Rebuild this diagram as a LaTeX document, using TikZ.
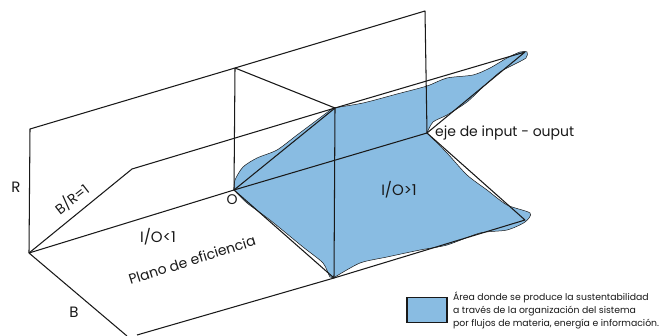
\documentclass[tikz,border=0pt]{standalone}
\usepackage{fontspec}
\setmainfont{Poppins}
\definecolor{areablue}{RGB}{137,188,226}
\definecolor{ink}{RGB}{25,25,25}
\tikzset{
  edge/.style={draw=ink,line width=1.05pt,line join=round},
  area/.style={fill=areablue,draw=ink,line width=0.5pt},
  lab/.style={inner sep=0pt,text=ink,font=\fontsize{14}{15}\selectfont},
  small/.style={inner sep=0pt,text=ink,anchor=west,font=\fontsize{9.3}{10}\selectfont}
}
\begin{document}
\begin{tikzpicture}[x=1pt,y=-1pt]
\useasboundingbox (0,0) rectangle (660,336);
\fill[white] (0,0) rectangle (660,336);
\coordinate (A) at (29,253);
\coordinate (TL) at (30,129);
\coordinate (TM) at (235,68);
\coordinate (TR) at (425,11);
\coordinate (O) at (234,190);
\coordinate (W) at (427,133);
\coordinate (C) at (335,108);
\coordinate (K) at (132,169);
\coordinate (Tip) at (525,52);
\coordinate (D) at (334,278);
\coordinate (E) at (525,220);
\coordinate (F) at (137,335);
\coordinate (G) at (127,336);
% blue surface
\draw[area] plot[smooth,tension=0.45] coordinates {(234,190) (235,180) (243,167) (257,158) (277,150) (297,135) (317,120) (333,108)}
  -- plot[smooth,tension=0.45] coordinates {(333,108) (363,103) (397,94) (427,86) (447,78) (473,75) (490,68) (507,58) (520,52) (527,52) (526,58) (513,65) (500,72) (483,87) (467,102) (447,115) (433,122) (427,133)}
  -- plot[smooth,tension=0.45] coordinates {(427,133) (447,153) (467,175) (487,190) (507,205) (530,213) (525,222) (507,230) (480,233) (447,245) (420,250) (387,257) (360,263) (335,277)}
  -- plot[smooth,tension=0.45] coordinates {(335,277) (330,277) (323,263) (303,247) (270,220) (247,203) (234,190)} -- cycle;
% frame
\draw[edge] (G) -- (A) -- (TL) -- (TM) -- (TR) -- (W) -- (O) -- (A);
\draw[edge] (TM) -- (O);
\draw[edge] (A) -- (K) -- (C) -- (Tip) -- (W) -- (E) -- (D) -- (F);
\draw[edge] (TM) -- (C) -- (D) -- (O) -- (C);
% labels
\node[lab,font=\fontsize{15}{16}\selectfont] (rlab) at (16,187) {R};
\node[lab,rotate=38] (brlab) at (72,199) {B/R=1};
\node[lab,font=\fontsize{15}{16}\selectfont] (ltlab) at (158,237) {I/O<1};
\node[lab,rotate=17.5] (plab) at (192,260) {Plano de eficiencia};
\node[lab,font=\fontsize{15}{16}\selectfont] (blab) at (74,312) {B};
\node[lab] (olab) at (232,200) {O};
\node[lab,font=\fontsize{15}{16}\selectfont] (gtlab) at (399,190) {I/O>1};
\node[lab,anchor=west] (ejelab) at (435,133) {eje de input - ouput};
% legend
\node[area,draw=ink,line width=1.05pt,minimum width=40pt,minimum height=25pt,inner sep=0pt] (key) at (427,310) {};
\node[small] (l1) at (453,297) {Área donde se produce la sustentabilidad};
\node[small] (l2) at (453,311) {a través de la organización del sistema};
\node[small] (l3) at (453,324) {por flujos de materia, energía e información.};
\end{tikzpicture}
\end{document}
